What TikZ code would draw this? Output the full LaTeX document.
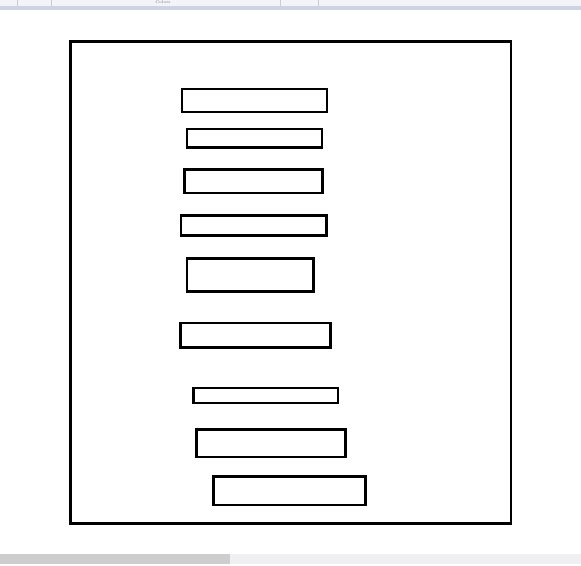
\documentclass[tikz,border=0pt]{standalone}
\usepackage{amsmath}
\definecolor{barface}{HTML}{F4F4F8}
\definecolor{barline}{HTML}{CDD3E2}
\definecolor{scrollthumb}{HTML}{CDCDCD}
\definecolor{scrolltrack}{HTML}{F0F0F2}

\begin{document}
\begin{tikzpicture}[x=1pt,y=-1pt]
      \tikzstyle{every node}=[draw,shape=rectangle,line width=2.9pt,inner sep=0pt];
      \tikzstyle{bar}=[minimum width=#1];
        \useasboundingbox (0,0) rectangle (581,565);

        % window chrome
        \fill[barface] (0,0) rectangle (581,5.5);
        \fill[barline] (0,5.5) rectangle (581,9.5);
        \foreach \sx in {17,51,280,318}
          \draw[black!20,line width=0.6pt] (\sx,0) -- (\sx,5.5);
        \path (163,2.6) node[draw=none,text=black!55,font=\fontsize{4}{4}\selectfont] (colors) {Colors};
        \fill[scrolltrack] (0,554) rectangle (581,564);
        \fill[scrollthumb] (0,554) rectangle (230,564);

        % canvas
        \path (290.75,282.5) node[minimum width=440.5pt,minimum height=482pt] (frame) {};

        \path (254.5,100.5)  node[bar=145pt,minimum height=23pt]   (r1) {};
        \path (254.5,138.25) node[bar=135pt,minimum height=18.5pt] (r2) {};
        \path (253.5,181.25) node[bar=138pt,minimum height=23.5pt] (r3) {};
        \path (253.75,225.5) node[bar=145.5pt,minimum height=20pt] (r4) {};
        \path (250.25,275)   node[bar=126.5pt,minimum height=33pt] (r5) {};
        \path (255.5,335.25) node[bar=150pt,minimum height=24.5pt] (r6) {};
        \path (265.75,395.5) node[bar=144.5pt,minimum height=15pt] (r7) {};
        \path (271,443.25)   node[bar=149pt,minimum height=27.5pt] (r8) {};
        \path (289.5,490.75) node[bar=152pt,minimum height=28.5pt] (r9) {};
    \end{tikzpicture}
\end{document}
